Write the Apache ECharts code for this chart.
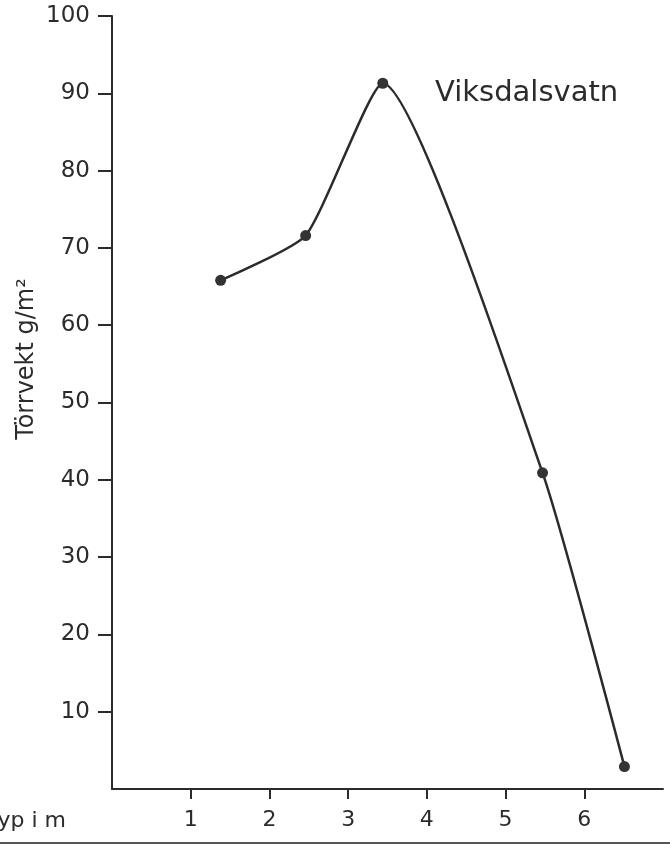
<!DOCTYPE html>
<html>
<head>
<meta charset="utf-8">
<script src="https://cdn.jsdelivr.net/npm/echarts@6/dist/echarts.min.js"></script>
<style>
  html, body { margin: 0; padding: 0; background: #fff; }
  #chart { width: 670px; height: 845px; }
</style>
</head>
<body>
<div id="chart"></div>
<script>
// depth (m) and dry weight (g/m2)
var depth = [1.38, 2.46, 3.44, 5.47, 6.51];
var dryWeight = [65.8, 71.6, 91.3, 40.9, 2.9];
var xTicks = [1, 2, 3, 4, 5, 6];
var yTicks = [10, 20, 30, 40, 50, 60, 70, 80, 90, 100];

var ink = '#2b2b2b';
var font = 'DejaVu Sans';

var chart = echarts.init(document.getElementById('chart'));

var points = depth.map(function (d, i) { return [d, dryWeight[i]]; });

var option = {
    backgroundColor: '#fff',
    animation: false,
    title: {
        text: 'Viksdalsvatn',
        left: 430,
        top: 74,
        textStyle: { fontFamily: font, fontSize: 29, fontWeight: 'normal', color: ink }
    },
    grid: { left: 112, right: 7, top: 16, bottom: 56 },
    xAxis: {
        type: 'value',
        min: 0,
        max: 7,
        splitLine: { show: false },
        axisLine: { lineStyle: { color: ink, width: 2 } },
        axisTick: { show: true, length: 10, customValues: xTicks, lineStyle: { color: ink, width: 2 } },
        axisLabel: { customValues: xTicks, margin: 20, fontFamily: font, fontSize: 22, color: ink }
    },
    yAxis: {
        type: 'value',
        min: 0,
        max: 100,
        splitLine: { show: false },
        axisLine: { show: true, lineStyle: { color: ink, width: 2 } },
        axisTick: { show: true, length: 14, customValues: yTicks, lineStyle: { color: ink, width: 2 } },
        axisLabel: { customValues: yTicks, margin: 22, fontFamily: font, fontSize: 23, color: ink }
    },
    graphic: [
        {
            type: 'text',
            x: 27,
            y: 359,
            rotation: Math.PI / 2,
            style: {
                text: 'Törrvekt g/m²',
                fontFamily: font,
                fontSize: 24,
                fill: ink,
                align: 'center',
                verticalAlign: 'middle'
            }
        },
        {
            type: 'text',
            x: 66,
            y: 821,
            style: {
                text: 'Dyp i m',
                fontFamily: font,
                fontSize: 22,
                fill: ink,
                align: 'right',
                verticalAlign: 'middle'
            }
        },
        {
            type: 'rect',
            shape: { x: 0, y: 842, width: 670, height: 2 },
            style: { fill: '#555' }
        }
    ],
    series: [
        {
            type: 'line',
            data: points,
            smooth: 0.18,
            symbol: 'circle',
            symbolSize: 11,
            lineStyle: { color: ink, width: 2.5 },
            itemStyle: { color: '#333' }
        }
    ]
};
chart.setOption(option);
</script>
</body>
</html>
